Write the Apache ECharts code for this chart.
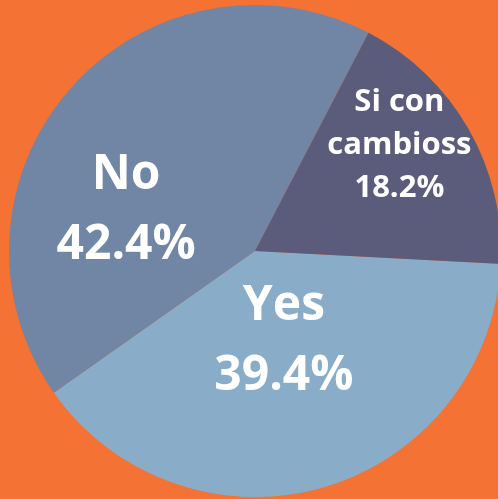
<!DOCTYPE html>
<html>
<head>
<meta charset="utf-8">
<script src="https://cdn.jsdelivr.net/npm/echarts@6/dist/echarts.min.js"></script>
<style>
html, body { margin: 0; padding: 0; background: #f47233; }
#chart { width: 498px; height: 499px; }
</style>
</head>
<body>
<div id="chart"></div>
<script>
// slices, clockwise from 3 o'clock
var categories = ['Yes', 'No', 'Si con\ncambioss'];
var values = [39.4, 42.4, 18.2];
var colors = ['#89adc8', '#7086a4', '#5b5b7b'];

var bigLabel = { fontSize: 48, lineHeight: 70 };
var smallLabel = { fontSize: 31, lineHeight: 43 };
var labelStyles = [
    Object.assign({ offset: [-6, -31] }, bigLabel),
    Object.assign({ offset: [-34, 42] }, bigLabel),
    Object.assign({ offset: [35, -43] }, smallLabel)
];

var pieData = categories.map(function (name, i) {
    return {
        name: name,
        value: values[i],
        itemStyle: { color: colors[i] },
        label: labelStyles[i]
    };
});

var myChart = echarts.init(document.getElementById('chart'));
myChart.setOption({
    backgroundColor: '#f47233',
    animation: false,
    series: [{
        type: 'pie',
        center: [255, 251],
        radius: 246,
        startAngle: -3,
        clockwise: true,
        itemStyle: { borderWidth: 0 },
        label: {
            show: true,
            position: 'inside',
            color: '#ffffff',
            fontFamily: 'Open Sans',
            fontWeight: 'bold',
            formatter: '{b}\n{d}%'
        },
        labelLine: { show: false },
        emphasis: { disabled: true },
        data: pieData
    }]
});
window.onresize = myChart.resize;
</script>
</body>
</html>
